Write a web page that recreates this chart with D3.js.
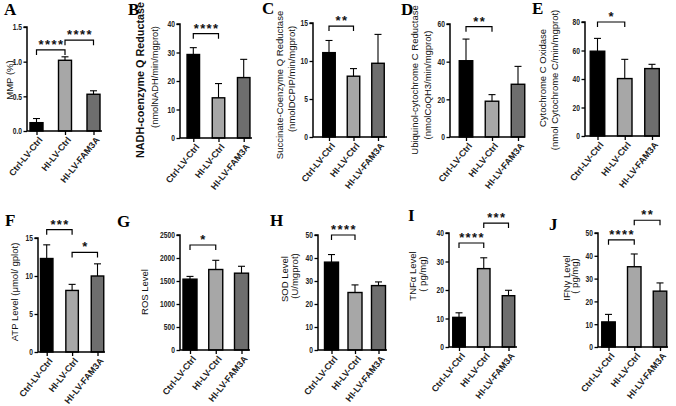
<!DOCTYPE html>
<html><head><meta charset="utf-8">
<script src="https://cdn.jsdelivr.net/npm/d3@7"></script>
<style>
html,body{margin:0;padding:0;background:#fff;}
svg{display:block;}
</style></head>
<body>
<svg id="chart" width="676" height="406"></svg>
<script>
// ---------- data ----------
const categories = ["Ctrl-LV-Ctrl", "HI-LV-Ctrl", "HI-LV-FAM3A"];
const panelLetters = ["A","B","C","D","E","F","G","H","I","J"];

const meanA = [0.12, 1.02, 0.53];  const sdA = [0.06, 0.05, 0.05];
const meanB = [29.3, 14.1, 21.2];  const sdB = [2.4, 5.0, 6.4];
const meanC = [11.1, 8.0, 9.7];    const sdC = [1.6, 1.0, 3.8];
const meanD = [40.5, 19.0, 28.0];  const sdD = [11.5, 3.5, 9.5];
const meanE = [59.5, 40.3, 47.3];  const sdE = [9.0, 13.5, 3.0];
const meanF = [12.3, 8.1, 10.0];   const sdF = [1.8, 0.8, 1.6];
const meanG = [1540, 1750, 1670];  const sdG = [60, 200, 150];
const meanH = [38.2, 25.0, 28.0];  const sdH = [3.3, 3.3, 1.6];
const meanI = [10.4, 27.5, 18.0];  const sdI = [1.6, 3.8, 1.9];
const meanJ = [11.0, 35.2, 24.5];  const sdJ = [3.3, 5.6, 3.6];

const ticksA = [0, 0.5, 1.0, 1.5];
const ticksB = [0, 10, 20, 30, 40];
const ticksC = [0, 5, 10, 15];
const ticksD = [0, 20, 40, 60];
const ticksE = [0, 20, 40, 60, 80];
const ticksF = [0, 5, 10, 15];
const ticksG = [0, 500, 1000, 1500, 2000, 2500];
const ticksH = [0, 10, 20, 30, 40, 50];
const ticksI = [0, 10, 20, 30, 40];
const ticksJ = [0, 10, 20, 30, 40, 50];

// significance: [from, to, bracket top value, label]
const sigA = [[0, 1, 1.17, "****"], [1, 2, 1.31, "****"]];
const sigB = [[0, 1, 36.6, "****"]];
const sigC = [[0, 1, 14.6, "**"]];
const sigD = [[0, 1, 58.6, "**"]];
const sigE = [[0, 1, 80, "*"]];
const sigF = [[0, 1, 16.1, "***"], [1, 2, 13.1, "*"]];
const sigG = [[0, 1, 2283, "*"]];
const sigH = [[0, 1, 50, "****"]];
const sigI = [[0, 1, 36.5, "****"], [1, 2, 43.5, "***"]];
const sigJ = [[0, 1, 47, "****"], [1, 2, 55.6, "**"]];

const titleA = ["MMP (%)"];
const titleB = ["NADH-coenzyme Q Reductase", "(nmolNADH/min/mgprot)"];
const titleC = ["Succinate-Coenzyme Q Reductase", "(nmolDCPIP/min/mgprot)"];
const titleD = ["Ubiquinol-cytochrome C Reductase", "(nmolCoQH3/min/mgprot)"];
const titleE = ["Cytochrome C Oxidase", "(nmol Cytochrome C/min/mgprot)"];
const titleF = ["ATP Level  (\u03bcmol/ gplot)"];
const titleG = ["ROS Level"];
const titleH = ["SOD Level", "(U/mgprot)"];
const titleI = ["TNF\u03b1 Level", "( pg/mg)"];
const titleJ = ["IFN\u03b3 Level", "( pg/mg)"];

// ---------- layout / style ----------
const barColors = ["#000000", "#a7a7a7", "#6e6e6e"];
const SANS = "'Liberation Sans', Arial, sans-serif";
const SERIF = "'Liberation Serif', 'DejaVu Serif', serif";
const layout = [
  {mean: meanA, sd: sdA, ticks: ticksA, sig: sigA, title: titleA, fmt: ".1f",
   x0: 27, x1: 102, c0: 36.5, c2: 93.5, yTop: 27, yBot: 131, bw: 13,
   L: [4, 15], tx: [10], tcy: [80], tsz: [9.5], tw: [400]},
  {mean: meanB, sd: sdB, ticks: ticksB, sig: sigB, title: titleB, fmt: "d",
   x0: 180, x1: 252, c0: 193.3, c2: 243.7, yTop: 24, yBot: 138, bw: 12.5,
   L: [128, 15], tx: [140, 155], tcy: [80, 77], tsz: [10.8, 9.3], tw: [700, 400]},
  {mean: meanC, sd: sdC, ticks: ticksC, sig: sigC, title: titleC, fmt: "d",
   x0: 313, x1: 387, c0: 329, c2: 378, yTop: 23, yBot: 137, bw: 12.5,
   L: [262, 14], tx: [280, 292], tcy: [85, 79], tsz: [9.5, 9.5], tw: [400, 400]},
  {mean: meanD, sd: sdD, ticks: ticksD, sig: sigD, title: titleD, fmt: "d",
   x0: 450, x1: 525, c0: 466, c2: 518, yTop: 24, yBot: 137, bw: 13.5,
   L: [401, 15], tx: [415, 428], tcy: [80, 85], tsz: [9.5, 9.5], tw: [400, 400]},
  {mean: meanE, sd: sdE, ticks: ticksE, sig: sigE, title: titleE, fmt: "d",
   x0: 585, x1: 660, c0: 597.5, c2: 652, yTop: 22, yBot: 136, bw: 14.5,
   L: [532, 14], tx: [543, 555], tcy: [78, 80], tsz: [9.5, 9.5], tw: [400, 400]},
  {mean: meanF, sd: sdF, ticks: ticksF, sig: sigF, title: titleF, fmt: "d",
   x0: 38, x1: 105, c0: 46.7, c2: 97.5, yTop: 238, yBot: 352, bw: 12.5,
   L: [5, 226], tx: [15], tcy: [292], tsz: [9.5], tw: [400]},
  {mean: meanG, sd: sdG, ticks: ticksG, sig: sigG, title: titleG, fmt: "d",
   x0: 180, x1: 250, c0: 190, c2: 241.5, yTop: 235, yBot: 350, bw: 14,
   L: [117, 227], tx: [145], tcy: [292], tsz: [9.5], tw: [400]},
  {mean: meanH, sd: sdH, ticks: ticksH, sig: sigH, title: titleH, fmt: "d",
   x0: 318, x1: 387, c0: 331.5, c2: 378.5, yTop: 235, yBot: 350, bw: 14,
   L: [270, 226], tx: [285, 295], tcy: [279, 276], tsz: [9.5, 9.5], tw: [400, 400]},
  {mean: meanI, sd: sdI, ticks: ticksI, sig: sigI, title: titleI, fmt: "d",
   x0: 449, x1: 517, c0: 459, c2: 508.5, yTop: 233, yBot: 347, bw: 12.5,
   L: [408, 221], tx: [413, 423], tcy: [276, 274], tsz: [9.5, 9.5], tw: [400, 400]},
  {mean: meanJ, sd: sdJ, ticks: ticksJ, sig: sigJ, title: titleJ, fmt: "d",
   x0: 598, x1: 668, c0: 608.5, c2: 660, yTop: 233, yBot: 347, bw: 13.5,
   L: [549, 230], tx: [567, 575], tcy: [278, 276], tsz: [9.5, 9.5], tw: [400, 400]}
];

const svg = d3.select("#chart");
const narrow = 0.72;   // the reference tick type is horizontally condensed

layout.forEach((p, pi) => {
  const g = svg.append("g");
  const yMax = p.ticks[p.ticks.length - 1];
  const y = d3.scaleLinear().domain([0, yMax]).range([p.yBot, p.yTop]);
  const x = d3.scalePoint().domain(categories).range([p.c0, p.c2]);

  // panel letter
  g.append("text").attr("x", p.L[0]).attr("y", p.L[1])
    .style("font-family", SERIF)
    .style("font-weight", 700).style("font-size", "17px").text(panelLetters[pi]);

  // bars
  g.selectAll("rect.bar").data(p.mean).enter().append("rect")
    .attr("x", (d, i) => x(categories[i]) - p.bw / 2)
    .attr("y", d => y(d))
    .attr("width", p.bw)
    .attr("height", d => y(0) - y(d))
    .attr("fill", (d, i) => barColors[i])
    .attr("stroke", "#000").attr("stroke-width", 1.4);

  // error bars (upper)
  p.mean.forEach((m, i) => {
    const cx = x(categories[i]);
    g.append("line").attr("x1", cx).attr("x2", cx)
      .attr("y1", y(m)).attr("y2", y(m + p.sd[i]))
      .attr("stroke", "#000").attr("stroke-width", 1.1);
    g.append("line").attr("x1", cx - 3.5).attr("x2", cx + 3.5)
      .attr("y1", y(m + p.sd[i])).attr("y2", y(m + p.sd[i]))
      .attr("stroke", "#000").attr("stroke-width", 1.1);
  });

  // y axis
  const yAxis = d3.axisLeft(y).tickValues(p.ticks).tickSize(3.5).tickPadding(1.5)
    .tickFormat(d3.format(p.fmt));
  const ya = g.append("g").attr("transform", `translate(${p.x0},0)`).call(yAxis);
  ya.select(".domain").attr("stroke-width", 1.5).attr("d", `M-3.5,${p.yTop}H0V${p.yBot}`);
  ya.selectAll(".tick line").attr("stroke-width", 1.3);
  ya.selectAll(".tick text").style("font-size", "9.3px").style("font-weight", 700)
    .style("font-family", SANS).attr("fill", "#222")
    .attr("x", -5 / narrow).attr("transform", `scale(${narrow},1)`);

  // x axis
  const xAxis = d3.axisBottom(x).tickSize(4).tickPadding(2);
  const xa = g.append("g").attr("transform", `translate(0,${p.yBot})`).call(xAxis);
  xa.select(".domain").attr("stroke-width", 1.5).attr("d", `M${p.x0},0H${p.x1}`);
  xa.selectAll(".tick line").attr("stroke-width", 1.3);
  xa.selectAll(".tick text")
    .style("font-size", "9px").style("font-weight", 700)
    .style("font-family", SANS).attr("fill", "#222")
    .attr("text-anchor", "end").attr("dy", 0)
    .attr("transform", "translate(6,9) rotate(-51)")
    .attr("y", 0).attr("x", 0);

  // y titles
  p.title.forEach((t, k) => {
    const tx = p.tx[k] + p.tsz[k] * 0.36;
    g.append("text").attr("transform", `translate(${tx},${p.tcy[k]}) rotate(-90)`)
      .attr("text-anchor", "middle").style("font-size", p.tsz[k] + "px")
      .style("font-family", SANS)
      .style("font-weight", p.tw[k]).attr("fill", "#111").text(t);
  });

  // significance brackets
  p.sig.forEach(s => {
    const xa1 = x(categories[s[0]]), xa2 = x(categories[s[1]]);
    const yt = y(s[2]);
    g.append("path").attr("d", `M${xa1},${yt + 5}V${yt}H${xa2}V${yt + 5}`)
      .attr("fill", "none").attr("stroke", "#000").attr("stroke-width", 1.2);
    g.append("text").attr("x", (xa1 + xa2) / 2 + 0.7).attr("y", yt - 1)
      .attr("text-anchor", "middle").style("font-size", "13px").style("font-weight", 700)
      .style("font-family", SANS).attr("letter-spacing", 1.4)
      .attr("fill", "#111").text(s[3]);
  });
});
</script>
</body></html>
